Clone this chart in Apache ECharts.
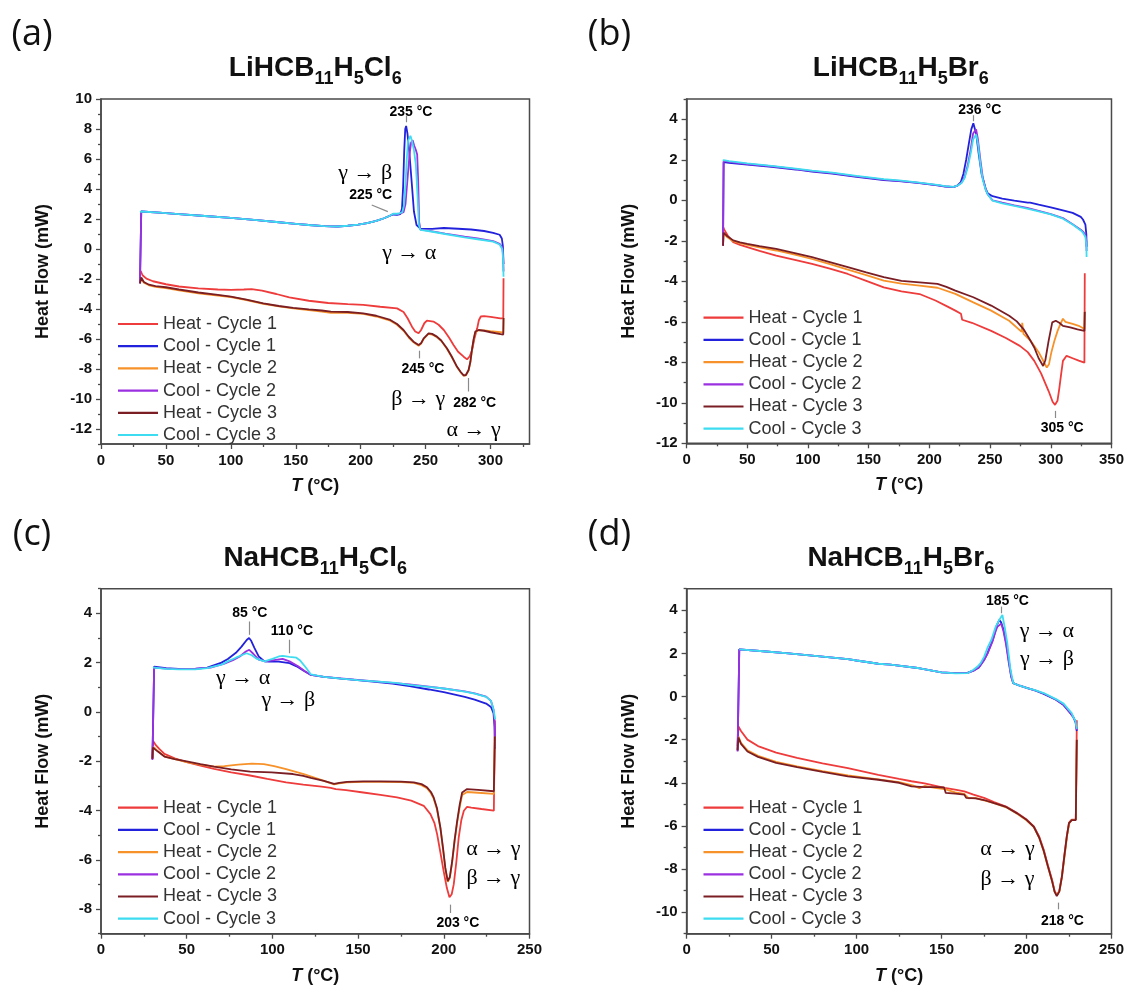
<!DOCTYPE html>
<html>
<head>
<meta charset="utf-8">
<script src="https://cdn.jsdelivr.net/npm/echarts@6/dist/echarts.min.js"></script>
<style>
  html, body { margin: 0; background: #fff; }
  #chart { width: 1127px; height: 989px; }
</style>
</head>
<body>
<div id="chart"></div>
<script>
var seriesNames = ['Heat - Cycle 1', 'Cool - Cycle 1', 'Heat - Cycle 2', 'Cool - Cycle 2', 'Heat - Cycle 3', 'Cool - Cycle 3'];
var seriesColors = ['#ee3b3b', '#2222dd', '#f7922a', '#9b30e0', '#7b1e24', '#3ddcf0'];

// ---- (a) LiHCB11H5Cl6 ----
var aHeat1 = [[30.5,-1.45],[32,-1.75],[35,-1.98],[40,-2.15],[50,-2.35],[60,-2.5],[75,-2.62],[90,-2.7],[100,-2.72],[110,-2.7],[116,-2.68],[124,-2.78],[135,-3.0],[145,-3.22],[160,-3.45],[175,-3.6],[190,-3.68],[202,-3.73],[215,-3.85],[228,-3.96],[233,-4.2],[236,-4.6],[239.5,-5.18],[242,-5.5],[244.6,-5.62],[246.5,-5.4],[249,-4.95],[251,-4.78],[256,-4.84],[260,-5.05],[264,-5.4],[268,-5.9],[271.5,-6.4],[275,-6.85],[279.3,-7.18],[281.9,-7.36],[284,-7.15],[285.8,-6.73],[287.5,-6.0],[289.7,-5.29],[291,-4.75],[292.5,-4.5],[295,-4.48],[300,-4.52],[307.6,-4.62],[309.8,-4.62],[310,-1.95]];
var aCool1 = [[310,-1.0],[309.5,0.2],[308.7,0.7],[307,0.95],[302,1.08],[295,1.2],[285,1.3],[275,1.35],[264,1.4],[263.4,1.33],[255,1.34],[246,1.36],[244.5,1.4],[243,1.6],[241,2.5],[239.5,4.2],[237.5,6.4],[236,7.7],[235,8.2],[234.3,8.0],[233.5,6.5],[232.7,4.2],[231.8,2.7],[230.5,2.32],[228,2.28],[225,2.3],[222,2.2],[218,2.05],[212,1.88],[205,1.72],[198,1.62],[190,1.55],[182,1.5],[172,1.52],[160,1.6],[150,1.68],[135,1.8],[120,1.92],[100,2.07],[80,2.2],[60,2.33],[45,2.42],[31,2.5],[30,2.45],[30,-2.25]];
var aHeat2 = [[30,-2.25],[31,-1.95],[33,-2.25],[37,-2.42],[42,-2.52],[50,-2.6],[60,-2.75],[75,-2.95],[90,-3.1],[100,-3.2],[112,-3.4],[125,-3.65],[137,-3.83],[148,-3.96],[160,-4.08],[170,-4.18],[177,-4.25],[190,-4.25],[202,-4.33],[212,-4.5],[222.8,-4.78],[228,-5.05],[233,-5.45],[237,-5.9],[240.7,-6.22],[244.6,-6.45],[246.5,-6.3],[248.5,-6.0],[252.3,-5.65],[255,-5.7],[258.7,-5.88],[262,-6.12],[266.4,-6.65],[270,-7.18],[274.1,-7.86],[277,-8.22],[279.3,-8.45],[281,-8.42],[283.1,-8.1],[284.5,-7.55],[285.7,-6.75],[287,-6.05],[288.3,-5.55],[290.8,-5.42],[295,-5.42],[300,-5.48],[307.7,-5.55],[309.8,-5.58],[310,-4.6]];
var aCool2 = [[310,-1.5],[309.6,-0.3],[309,0.15],[307,0.35],[302,0.52],[290,0.7],[280,0.82],[265,1.02],[252,1.22],[246,1.3],[245,1.8],[244.3,4.5],[243.5,6.3],[242.5,6.6],[241.2,6.9],[240,7.25],[238.8,7.1],[237.5,6.2],[236,4.6],[234.5,3.0],[233,2.45],[230,2.35],[225,2.33],[222,2.2],[218,2.05],[212,1.88],[205,1.72],[198,1.62],[190,1.55],[182,1.5],[172,1.52],[160,1.6],[150,1.68],[135,1.8],[120,1.92],[100,2.07],[80,2.2],[60,2.33],[45,2.42],[31,2.5],[30,2.45],[30,-2.3]];
var aHeat3 = [[30,-2.3],[31,-1.9],[33,-2.2],[37,-2.38],[42,-2.48],[50,-2.55],[60,-2.7],[75,-2.9],[90,-3.06],[100,-3.18],[112,-3.38],[125,-3.62],[137,-3.8],[148,-3.92],[160,-4.02],[170,-4.1],[177,-4.18],[190,-4.2],[202,-4.29],[212,-4.45],[222.8,-4.73],[228,-5.0],[233,-5.4],[237,-5.85],[240.7,-6.18],[244.6,-6.4],[246.5,-6.28],[248.5,-5.96],[252.3,-5.62],[255,-5.66],[258.7,-5.84],[262,-6.1],[266.4,-6.62],[270,-7.15],[274.1,-7.84],[277,-8.2],[279.3,-8.42],[281,-8.4],[283.1,-8.07],[284.5,-7.5],[285.7,-6.7],[287,-6.0],[288.3,-5.5],[290.8,-5.4],[295,-5.45],[300,-5.55],[307.7,-5.68],[309.8,-5.7],[310,-4.6]];
var aCool3 = [[310,-1.85],[309.6,-0.6],[309,0.0],[307,0.3],[302,0.49],[290,0.65],[280,0.78],[265,1.0],[252,1.2],[246,1.27],[244.8,1.6],[243.8,3.5],[242.5,5.6],[241,6.6],[239.5,7.2],[238.3,7.55],[237.4,7.6],[236.5,7.2],[235.5,6.0],[234.5,4.3],[233.3,2.9],[232,2.45],[229,2.35],[225,2.35],[222,2.2],[218,2.05],[212,1.88],[205,1.72],[198,1.62],[190,1.55],[182,1.5],[172,1.52],[160,1.6],[150,1.68],[135,1.8],[120,1.92],[100,2.07],[80,2.2],[60,2.33],[45,2.42],[31,2.5],[30,2.48]];
var aXTicks = [0, 50, 100, 150, 200, 250, 300];
var aXMinor = [25, 75, 125, 175, 225, 275, 325];
var aYTicks = [-12, -10, -8, -6, -4, -2, 0, 2, 4, 6, 8, 10];
var aYMinor = [-13, -11, -9, -7, -5, -3, -1, 1, 3, 5, 7, 9];
var aTemps = [[238.7, 9.15, '235 °C'], [207.7, 3.6, '225 °C'], [247.9, -8.02, '245 °C'], [287.8, -10.29, '282 °C']];
var aPhases = [[203.5, 5.04, 'γ → β'], [237.4, -0.29, 'γ → α'], [244.3, -10.02, 'β → γ'], [286.9, -12.07, 'α → γ']];
var aPointers = [[[235, 8.45], [235, 8.9]], [[208.5, 2.93], [220.9, 2.49]], [[245, -6.78], [245, -7.29]], [[283, -8.6], [283, -9.5]]];

// ---- (b) LiHCB11H5Br6 ----
var bHeat1 = [[30,-1.3],[31,-1.45],[34,-1.75],[38.4,-2.07],[44,-2.2],[50,-2.31],[60,-2.5],[73.8,-2.73],[90,-2.95],[103.3,-3.14],[118,-3.38],[132.8,-3.64],[148,-3.98],[162.4,-4.3],[177,-4.5],[191.9,-4.63],[205,-4.95],[215,-5.25],[221.4,-5.45],[226,-5.6],[227,-5.9],[235,-6.05],[250.9,-6.45],[263,-6.8],[274.5,-7.19],[281,-7.5],[286.4,-7.93],[292,-8.55],[298.2,-9.42],[301.5,-9.95],[303.5,-10.1],[305.5,-9.9],[307,-9.3],[308.5,-8.6],[310,-7.93],[313,-7.68],[318,-7.8],[323,-7.92],[327.7,-8.02],[328,-3.6]];
var bCool1 = [[329.5,-2.3],[329.3,-1.7],[328.5,-1.2],[326.5,-0.95],[324.7,-0.82],[318,-0.62],[310,-0.5],[300,-0.35],[290,-0.22],[283,-0.12],[282.5,-0.04],[281,-0.12],[270,-0.02],[260,0.08],[252,0.2],[248,0.35],[246.5,0.55],[243,1.3],[240.6,2.3],[238.5,3.3],[236.2,3.8],[234.5,3.5],[232.5,2.8],[230.3,2.0],[228,1.3],[225.9,0.9],[223,0.72],[219.9,0.65],[213,0.68],[206.6,0.74],[190,0.86],[175,0.95],[162.4,1.0],[140,1.15],[120,1.32],[103.3,1.42],[90,1.52],[70,1.65],[50,1.76],[35,1.85],[30.5,1.88],[30,1.85],[30,-2.2]];
var bHeat2 = [[30,-2.2],[30.5,-1.65],[33,-1.8],[38.4,-2.02],[44,-2.12],[50,-2.2],[60,-2.32],[73.8,-2.48],[90,-2.7],[103.3,-2.9],[118,-3.15],[132.8,-3.42],[148,-3.7],[162.4,-3.97],[177,-4.12],[191.9,-4.21],[206.7,-4.32],[221.4,-4.62],[236.2,-5.04],[250.9,-5.45],[265.7,-5.95],[276,-6.5],[276.5,-6.05],[277.5,-6.6],[283.4,-6.94],[290,-7.5],[294,-7.95],[296.7,-8.26],[298.5,-8.1],[300.5,-7.5],[303,-6.94],[305.6,-6.45],[308,-6.1],[310,-5.85],[312,-6.0],[318,-6.1],[323,-6.2],[327.7,-6.36],[328,-5.5]];
var bCool2 = [[329.5,-2.5],[329.3,-2.0],[328.5,-1.7],[326.5,-1.55],[324.7,-1.45],[318,-1.18],[310,-0.88],[300,-0.68],[290,-0.52],[280.5,-0.38],[270,-0.25],[260,-0.12],[252,0.0],[248,0.3],[246.5,0.5],[244,1.1],[242,2.0],[240,3.0],[238.5,3.5],[237.2,3.55],[236,3.3],[234,2.5],[231.5,1.7],[229,1.15],[226.5,0.88],[223,0.72],[219.9,0.66],[213,0.69],[206.6,0.75],[190,0.87],[175,0.96],[162.4,1.02],[140,1.18],[120,1.34],[103.3,1.44],[90,1.54],[70,1.68],[50,1.79],[35,1.9],[30.5,1.94],[30,1.9],[30,-2.25]];
var bHeat3 = [[30,-2.25],[30.5,-1.6],[33,-1.75],[38.4,-1.98],[44,-2.08],[50,-2.15],[60,-2.26],[73.8,-2.4],[90,-2.62],[103.3,-2.81],[118,-3.05],[132.8,-3.3],[148,-3.56],[162.4,-3.8],[177,-3.98],[191.9,-4.05],[206.7,-4.13],[214,-4.28],[221.4,-4.46],[236.2,-4.79],[250.9,-5.2],[265.7,-5.7],[272,-5.98],[277.5,-6.36],[282,-6.8],[286.4,-7.27],[290,-7.8],[293.7,-8.18],[295.5,-7.9],[298.2,-6.94],[301.2,-6.03],[304.1,-5.95],[307,-6.05],[310,-6.2],[316,-6.28],[322,-6.38],[327.7,-6.45],[328,-5.5]];
var bCool3 = [[329.5,-2.8],[329.3,-2.2],[328.5,-1.8],[326.5,-1.6],[324.7,-1.49],[318,-1.2],[310,-0.91],[300,-0.7],[290,-0.55],[280.5,-0.41],[270,-0.28],[260,-0.15],[252,-0.02],[248,0.3],[246.5,0.5],[244,1.0],[242,1.8],[240,2.8],[238.5,3.25],[237.5,3.3],[236,3.0],[234,2.3],[231.5,1.6],[229,1.1],[226.5,0.85],[223,0.72],[219.9,0.66],[213,0.7],[206.6,0.76],[190,0.88],[175,0.98],[162.4,1.04],[140,1.2],[120,1.36],[103.3,1.46],[90,1.56],[70,1.7],[50,1.82],[35,1.93],[30.5,1.98],[30,1.95]];
var bXTicks = [0, 50, 100, 150, 200, 250, 300, 350];
var bXMinor = [25, 75, 125, 175, 225, 275, 325];
var bYTicks = [-12, -10, -8, -6, -4, -2, 0, 2, 4];
var bYMinor = [-11, -9, -7, -5, -3, -1, 1, 3, 5];
var bTemps = [[241.5, 4.46, '236 °C'], [309.4, -11.24, '305 °C']];
var bPhases = [];
var bPointers = [[[236.2, 4.2], [236.2, 3.9]], [[303.5, -10.4], [303.5, -10.75]]];

// ---- (c) NaHCB11H5Cl6 ----
var cHeat1 = [[30,-1.9],[30.3,-1.17],[32,-1.35],[34,-1.5],[37,-1.7],[43,-1.88],[50,-2.04],[58,-2.18],[66,-2.31],[76,-2.45],[87,-2.58],[97,-2.72],[108,-2.86],[118,-2.95],[128.7,-3.03],[134,-3.08],[137,-3.13],[143,-3.17],[153,-3.27],[163,-3.37],[172.7,-3.47],[181,-3.6],[188.3,-3.81],[192.2,-4.15],[194.5,-4.5],[196.1,-4.96],[198,-5.7],[199.9,-6.46],[201.8,-7.15],[203.3,-7.52],[204.6,-7.4],[205.8,-7.0],[207.3,-6.1],[208.7,-5.1],[210.2,-4.4],[211.7,-4.01],[213.6,-3.85],[216,-3.88],[222,-3.94],[229.2,-4.01],[229.6,-4.05],[229.8,-0.35]];
var cCool1 = [[229.9,-1.5],[229.6,-0.6],[229,-0.05],[227.5,0.2],[224.7,0.34],[218,0.5],[212.2,0.61],[200,0.8],[191.3,0.91],[180,1.05],[170,1.15],[160,1.22],[149.6,1.29],[140,1.35],[130,1.42],[122.5,1.5],[118,1.68],[114.1,1.85],[110,1.98],[103.7,2.04],[98,2.04],[95.4,2.05],[92,2.25],[89.5,2.6],[87.5,2.9],[86.4,3.0],[85,2.92],[82,2.65],[78.7,2.4],[74,2.15],[70.3,2.0],[62,1.8],[55,1.75],[45.3,1.75],[38,1.78],[31,1.84],[30.3,1.84],[30,1.8],[30,-1.9]];
var cHeat2 = [[30,-1.9],[30.3,-1.4],[33,-1.58],[37,-1.8],[43,-1.92],[50,-2.04],[58,-2.14],[66,-2.22],[72,-2.2],[80,-2.14],[88,-2.1],[95,-2.12],[101,-2.2],[108,-2.32],[118.3,-2.52],[128,-2.75],[136,-2.94],[139,-2.9],[143.5,-2.86],[153,-2.84],[163,-2.84],[175,-2.85],[182.5,-2.88],[187,-2.97],[190.2,-3.1],[192.5,-3.3],[194.1,-3.52],[196,-3.95],[198,-4.72],[199.5,-5.55],[200.9,-6.38],[202.3,-6.9],[203.5,-6.74],[204.9,-6.1],[206.3,-5.25],[207.8,-4.5],[209.3,-3.85],[210.7,-3.37],[213.6,-3.25],[220,-3.28],[229.2,-3.33],[229.6,-3.33],[229.8,-1.0]];
var cCool2 = [[229.9,-1.0],[229.6,-0.3],[229,0.1],[227.5,0.45],[224.7,0.62],[218,0.75],[212.2,0.83],[200,0.95],[191.3,1.03],[180,1.12],[170,1.18],[160,1.24],[149.6,1.3],[140,1.36],[130,1.42],[122.5,1.5],[119,1.65],[115,1.85],[110,2.05],[106,2.15],[101,2.1],[96,2.05],[92,2.12],[89,2.35],[86.5,2.52],[84.5,2.45],[81,2.25],[77,2.1],[72,1.96],[64,1.8],[55,1.76],[45.3,1.74],[38,1.76],[31,1.8],[30.3,1.8],[30,1.78],[30,-1.95]];
var cHeat3 = [[30,-1.9],[30.3,-1.45],[33,-1.6],[37,-1.81],[43,-1.92],[50,-2.01],[58,-2.12],[66,-2.22],[76,-2.33],[87,-2.42],[99.5,-2.45],[112,-2.52],[118,-2.6],[122.4,-2.68],[130,-2.8],[136,-2.92],[139,-2.88],[143.5,-2.84],[153,-2.82],[163,-2.82],[175,-2.83],[182.5,-2.86],[187,-2.93],[190.2,-3.06],[192.5,-3.25],[194.1,-3.47],[196,-3.9],[198,-4.69],[199.5,-5.5],[200.9,-6.33],[202.3,-6.87],[203.5,-6.7],[204.9,-6.05],[206.3,-5.2],[207.8,-4.42],[209.3,-3.75],[210.7,-3.27],[213.6,-3.13],[220,-3.16],[229.2,-3.22],[229.6,-3.22],[229.8,-1.0]];
var cCool3 = [[229.9,-0.3],[229.6,-0.14],[229,0.1],[227.5,0.45],[224.7,0.61],[218,0.74],[212.2,0.82],[200,0.95],[191.3,1.02],[180,1.1],[172,1.18],[168,1.2],[160,1.24],[149.6,1.29],[140,1.35],[130,1.42],[122.5,1.52],[119.5,1.8],[116,2.1],[114,2.2],[110,2.23],[106,2.27],[103.7,2.25],[100,2.15],[95.4,2.05],[91,2.15],[88,2.3],[84.9,2.38],[82,2.3],[78.7,2.2],[74,2.05],[70.3,1.92],[62,1.78],[55,1.73],[45.3,1.73],[38,1.75],[31,1.8],[30.3,1.8]];
var cXTicks = [0, 50, 100, 150, 200, 250];
var cXMinor = [25, 75, 125, 175, 225];
var cYTicks = [-8, -6, -4, -2, 0, 2, 4];
var cYMinor = [-9, -7, -5, -3, -1, 1, 3, 5];
var cTemps = [[86.8, 4.02, '85 °C'], [111.4, 3.27, '110 °C'], [208.2, -8.57, '203 °C']];
var cPhases = [[82.9, 1.36, 'γ → α'], [109.3, 0.48, 'γ → β'], [228.9, -5.58, 'α → γ'], [228.9, -6.73, 'β → γ']];
var cPointers = [[[86.4, 3.67], [86.4, 3.13]], [[110, 2.93], [110, 2.38]], [[203.9, -7.82], [203.9, -8.16]]];

// ---- (d) NaHCB11H5Br6 ----
var dHeat1 = [[30,-2.3],[30.5,-1.39],[32,-1.6],[35.8,-2.0],[42,-2.3],[52.7,-2.6],[65,-2.85],[80,-3.1],[94.9,-3.32],[112.8,-3.63],[125,-3.82],[132.3,-3.93],[140,-4.03],[151.8,-4.24],[158,-4.32],[163.4,-4.4],[168.8,-4.55],[175,-4.7],[180.9,-4.9],[188,-5.1],[194.5,-5.4],[200,-5.7],[204.3,-6.02],[207.5,-6.5],[210.1,-7.1],[212.5,-7.8],[215,-8.49],[216.5,-9.0],[217.9,-9.22],[219.3,-9.0],[220.8,-8.33],[222.2,-7.4],[223.7,-6.48],[225,-5.85],[226.6,-5.71],[229,-5.71],[229.4,-5.71],[229.6,-1.1]];
var dCool1 = [[229.6,-1.6],[229.2,-1.4],[228.9,-1.2],[227.5,-0.95],[225.8,-0.77],[221.8,-0.4],[217.3,-0.15],[210.1,0.12],[205,0.28],[200.5,0.39],[196,0.5],[192.2,0.62],[191,0.95],[189.5,1.7],[188,2.5],[186.5,3.1],[185,3.45],[184,3.55],[182.5,3.3],[181.9,3.1],[180,2.6],[177,2.0],[175.1,1.7],[172,1.35],[168.8,1.2],[165.3,1.1],[158.2,1.08],[150,1.12],[137.2,1.31],[120,1.48],[112.8,1.52],[100,1.67],[94.9,1.73],[80,1.85],[60,2.0],[45,2.1],[31,2.19],[30.6,2.19],[30,2.15],[30,-2.5]];
var dHeat2 = [[30,-2.45],[30.5,-1.85],[32,-2.15],[35.8,-2.5],[42,-2.75],[52.7,-3.03],[65,-3.24],[80,-3.46],[94.9,-3.66],[112.8,-3.84],[125,-3.97],[133,-4.12],[137,-4.25],[140,-4.15],[147,-4.25],[152,-4.3],[158,-4.45],[163.4,-4.52],[166,-4.72],[170,-4.7],[175,-4.82],[180.9,-4.95],[188,-5.14],[194.5,-5.44],[200,-5.74],[204.3,-6.06],[207.5,-6.57],[210.1,-7.18],[212.5,-7.88],[215,-8.55],[216.5,-9.05],[218,-9.22],[219.5,-9.0],[221,-8.3],[222.5,-7.35],[224,-6.4],[225.3,-5.85],[226.8,-5.72],[229,-5.72],[229.4,-5.72],[229.6,-2.0]];
var dCool2 = [[229.6,-1.55],[229.2,-1.38],[228.9,-1.18],[227.5,-0.95],[225.8,-0.77],[221.8,-0.38],[217.3,-0.14],[210.1,0.14],[205,0.29],[200.5,0.39],[196,0.5],[192.2,0.62],[191,0.9],[189.5,1.6],[188,2.4],[186.5,3.0],[185.2,3.38],[184.4,3.45],[183,3.25],[181.9,3.05],[180,2.55],[177,1.98],[175.1,1.7],[172,1.36],[168.8,1.2],[165.3,1.1],[158.2,1.08],[150,1.12],[137.2,1.31],[120,1.48],[112.8,1.52],[100,1.67],[94.9,1.73],[80,1.85],[60,2.0],[45,2.1],[31,2.19],[30.6,2.19],[30,2.15],[30,-2.55]];
var dHeat3 = [[30,-2.5],[30.5,-1.9],[32,-2.2],[35.8,-2.55],[42,-2.8],[52.7,-3.08],[65,-3.28],[80,-3.5],[94.9,-3.7],[112.8,-3.86],[125,-4.0],[132.3,-4.17],[140,-4.2],[147,-4.2],[151.5,-4.22],[152.5,-4.47],[158,-4.5],[163.4,-4.55],[164.5,-4.7],[170,-4.72],[175,-4.8],[180.9,-4.94],[188,-5.12],[194.5,-5.42],[200,-5.72],[204.3,-6.04],[207.5,-6.55],[210.1,-7.15],[212.5,-7.85],[215,-8.55],[216.5,-9.05],[217.8,-9.25],[219.3,-9.05],[220.8,-8.38],[222.2,-7.45],[223.7,-6.5],[225,-5.87],[226.6,-5.73],[229,-5.73],[229.4,-5.73],[229.6,-2.0]];
var dCool3 = [[229.6,-1.5],[229.2,-1.35],[228.9,-1.15],[227.5,-0.95],[226.6,-0.77],[221.8,-0.33],[217.3,-0.12],[210.1,0.16],[205,0.3],[200.5,0.39],[196,0.5],[192.2,0.62],[190.6,1.24],[189.6,1.9],[188.7,2.47],[187.2,3.2],[185.8,3.78],[185.2,3.86],[184.3,3.6],[181.9,3.24],[179.3,2.62],[177,2.25],[175.1,1.85],[173,1.55],[171.2,1.39],[168.8,1.24],[165.3,1.08],[158.2,1.07],[150,1.12],[137.2,1.31],[120,1.48],[112.8,1.52],[100,1.67],[94.9,1.73],[80,1.85],[60,2.0],[45,2.1],[31,2.19],[30.6,2.19]];
var dXTicks = [0, 50, 100, 150, 200, 250];
var dXMinor = [25, 75, 125, 175, 225];
var dYTicks = [-10, -8, -6, -4, -2, 0, 2, 4];
var dYMinor = [-11, -9, -7, -5, -3, -1, 1, 3, 5];
var dTemps = [[188.8, 4.4, '185 °C'], [221.1, -10.42, '218 °C']];
var dPhases = [[212, 3.01, 'γ → α'], [212, 1.73, 'γ → β'], [188.8, -7.1, 'α → γ'], [188.8, -8.49, 'β → γ']];
var dPointers = [[[185.2, 4.17], [185.2, 3.86]], [[218.4, -9.56], [218.4, -9.87]]];

// layout of the four panels
var panels = [
    {letter: '(a)', title: '{m|LiHCB}{s|11}{m|H}{s|5}{m|Cl}{s|6}', left: 101, top: 99, width: 428.5, height: 345,
        xMax: 330, yMin: -13, yMax: 10, xTicks: aXTicks, xMinor: aXMinor, yTicks: aYTicks, yMinor: aYMinor,
        curves: [aHeat1, aCool1, aHeat2, aCool2, aHeat3, aCool3], temps: aTemps, phases: aPhases, pointers: aPointers,
        legendLeft: 113, legendTop: 310},
    {letter: '(b)', title: '{m|LiHCB}{s|11}{m|H}{s|5}{m|Br}{s|6}', left: 686.6, top: 99, width: 428.4, height: 344.3,
        xMax: 350, yMin: -12, yMax: 5, xTicks: bXTicks, xMinor: bXMinor, yTicks: bYTicks, yMinor: bYMinor,
        curves: [bHeat1, bCool1, bHeat2, bCool2, bHeat3, bCool3], temps: bTemps, phases: bPhases, pointers: bPointers,
        legendLeft: 698.5, legendTop: 303.7},
    {letter: '(c)', title: '{m|NaHCB}{s|11}{m|H}{s|5}{m|Cl}{s|6}', left: 101, top: 588.7, width: 428.5, height: 345,
        xMax: 250, yMin: -9, yMax: 5, xTicks: cXTicks, xMinor: cXMinor, yTicks: cYTicks, yMinor: cYMinor,
        curves: [cHeat1, cCool1, cHeat2, cCool2, cHeat3, cCool3], temps: cTemps, phases: cPhases, pointers: cPointers,
        legendLeft: 113, legendTop: 793.7},
    {letter: '(d)', title: '{m|NaHCB}{s|11}{m|H}{s|5}{m|Br}{s|6}', left: 686.6, top: 588.7, width: 428.4, height: 345,
        xMax: 250, yMin: -11, yMax: 5, xTicks: dXTicks, xMinor: dXMinor, yTicks: dYTicks, yMinor: dYMinor,
        curves: [dHeat1, dCool1, dHeat2, dCool2, dHeat3, dCool3], temps: dTemps, phases: dPhases, pointers: dPointers,
        legendLeft: 698.5, legendTop: 793.7}
];

var axisColor = '#4a4a4a';
var labelColor = '#111';
var sansFont = '"Liberation Sans", Arial, sans-serif';
var serifFont = '"Liberation Serif", "DejaVu Serif", serif';

var grids = [], xAxes = [], yAxes = [], series = [], legends = [], graphics = [];

function makeAxis(gridIndex, position, min, max, ticks, isMinor) {
    return {
        gridIndex: gridIndex,
        type: 'value',
        position: position,
        offset: 0,
        min: min,
        max: max,
        axisLine: {show: !isMinor, onZero: false, lineStyle: {color: axisColor, width: 1.5}},
        axisTick: {show: true, inside: false, length: isMinor ? 3 : 5, customValues: ticks, lineStyle: {color: axisColor, width: 1.3}},
        axisLabel: isMinor ? {show: false} : {
            show: true, customValues: ticks, margin: 9, fontSize: 15, fontWeight: 'bold',
            color: labelColor, fontFamily: sansFont
        },
        splitLine: {show: false}
    };
}

// text-only scatter used for the annotations (scatter defaults to 0.8 opacity, which would fade the labels)
function labelSeries(i, name, items, labelStyle) {
    return {
        type: 'scatter',
        name: name,
        xAxisIndex: 2 * i,
        yAxisIndex: 2 * i,
        symbolSize: 0,
        itemStyle: {color: 'transparent', opacity: 1},
        emphasis: {disabled: true},
        data: items.map(function (t) { return {name: t[2], value: [t[0], t[1]]}; }),
        label: Object.assign({show: true, position: 'inside', formatter: '{b}', opacity: 1}, labelStyle),
        animation: false
    };
}

panels.forEach(function (p, i) {
    grids.push({
        left: p.left, top: p.top, width: p.width, height: p.height,
        show: true, borderColor: axisColor, borderWidth: 1.5, backgroundColor: 'transparent'
    });

    var xMain = makeAxis(i, 'bottom', 0, p.xMax, p.xTicks, false);
    xMain.name = '{i|T} (°C)';
    xMain.nameLocation = 'middle';
    xMain.nameGap = 33;
    xMain.nameTextStyle = {
        fontSize: 18, fontWeight: 'bold', color: labelColor, fontFamily: sansFont,
        rich: {i: {fontSize: 18, fontWeight: 'bold', fontStyle: 'italic', color: labelColor, fontFamily: sansFont}}
    };
    xAxes.push(xMain);
    xAxes.push(makeAxis(i, 'bottom', 0, p.xMax, p.xMinor, true));

    var yMain = makeAxis(i, 'left', p.yMin, p.yMax, p.yTicks, false);
    yMain.name = 'Heat Flow (mW)';
    yMain.nameLocation = 'middle';
    yMain.nameGap = 49;
    yMain.nameTextStyle = {fontSize: 18, fontWeight: 'bold', color: labelColor, fontFamily: sansFont};
    yAxes.push(yMain);
    yAxes.push(makeAxis(i, 'left', p.yMin, p.yMax, p.yMinor, true));

    p.curves.forEach(function (curve, j) {
        series.push({
            type: 'line',
            name: seriesNames[j],
            xAxisIndex: 2 * i,
            yAxisIndex: 2 * i,
            data: curve,
            symbol: 'none',
            smooth: false,
            lineStyle: {width: 1.8, color: seriesColors[j]},
            itemStyle: {color: seriesColors[j]},
            animation: false
        });
    });

    // temperature labels with their small pointer lines
    var temps = labelSeries(i, 'temps' + i, p.temps, {
        fontSize: 14, fontWeight: 'bold', color: '#000', fontFamily: sansFont
    });
    temps.markLine = {
        silent: true, symbol: 'none', animation: false,
        label: {show: false},
        lineStyle: {color: '#8a8a8a', width: 1.2, type: 'solid', opacity: 1},
        data: p.pointers.map(function (seg) {
            return [{coord: seg[0]}, {coord: seg[1]}];
        })
    };
    series.push(temps);

    // phase transition labels
    series.push(labelSeries(i, 'phases' + i, p.phases, {
        fontSize: 22, color: '#000', fontFamily: serifFont
    }));

    legends.push({
        data: seriesNames,
        orient: 'vertical',
        left: p.legendLeft,
        top: p.legendTop,
        icon: 'rect',
        itemWidth: 40,
        itemHeight: 2.2,
        itemGap: 4.2,
        selectedMode: false,
        textStyle: {fontSize: 18, color: '#333', fontFamily: sansFont}
    });

    graphics.push({
        type: 'text',
        x: i % 2 === 0 ? 32 : 609.5,
        y: i < 2 ? 35 : 535,
        style: {
            text: p.letter, align: 'center', verticalAlign: 'middle',
            fontSize: 36, fontFamily: '"Open Sans", sans-serif', fill: '#111'
        }
    });
    graphics.push({
        type: 'text',
        x: p.left + p.width / 2,
        y: i < 2 ? 68 : 558,
        style: {
            text: p.title, align: 'center', verticalAlign: 'middle', fill: '#111',
            rich: {
                m: {fontSize: 28, fontWeight: 'bold', fontFamily: sansFont, lineHeight: 40, verticalAlign: 'middle', fill: '#111'},
                s: {fontSize: 18, fontWeight: 'bold', fontFamily: sansFont, lineHeight: 18, verticalAlign: 'bottom', fill: '#111'}
            }
        }
    });
});

var chartObj = echarts.init(document.getElementById('chart'), null, {renderer: 'canvas'});
chartObj.setOption({
    backgroundColor: '#fff',
    animation: false,
    grid: grids,
    xAxis: xAxes,
    yAxis: yAxes,
    legend: legends,
    series: series,
    graphic: graphics
});
</script>
</body>
</html>
